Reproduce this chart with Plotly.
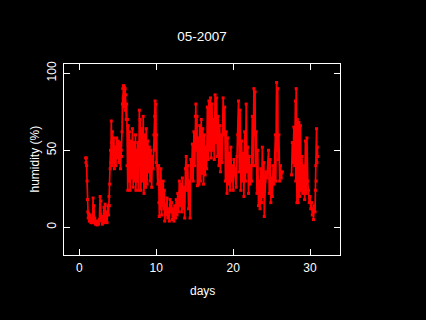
import plotly.graph_objects as go

# Readings (day of month, relative humidity %)
days = [0.82, 0.86, 0.9, 0.95, 1.0, 1.05, 1.1, 1.15,
        1.2, 1.3, 1.4, 1.5, 1.6, 1.7, 1.78, 1.82, 1.9, 1.95, 2.0, 2.1, 2.2, 2.3, 2.4, 2.5, 2.6, 2.7, 2.75, 2.8, 2.85, 2.95,
        3.0, 3.1, 3.2, 3.25, 3.35, 3.4, 3.5, 3.6, 3.7, 3.8, 3.85, 3.9, 3.95, 4.0, 4.05, 4.1, 4.15, 4.2, 4.25, 4.3, 4.4, 4.5,
        4.55, 4.65, 4.75, 4.85, 4.95, 5.05, 5.15, 5.25, 5.35, 5.45, 5.5, 5.55, 5.6, 5.65, 5.7, 5.75, 5.8, 5.85, 5.9, 5.95,
        6.0, 6.05, 6.1, 6.15, 6.2, 6.25, 6.3, 6.35, 6.4, 6.5, 6.6, 6.7, 6.8, 6.9, 7.0, 7.1, 7.2, 7.3, 7.35, 7.45, 7.5, 7.6,
        7.7, 7.8, 7.85, 7.9, 8.0, 8.1, 8.2, 8.3, 8.4, 8.5, 8.6, 8.7, 8.8, 8.9, 9.0, 9.1, 9.2, 9.3, 9.4, 9.5, 9.6, 9.7, 9.8,
        9.85, 9.9, 9.95, 10.0, 10.05, 10.1, 10.2, 10.3, 10.35, 10.4, 10.5, 10.55, 10.6, 10.65, 10.7, 10.8, 10.85, 10.9,
        11.0, 11.05, 11.1, 11.2, 11.3, 11.4, 11.5, 11.6, 11.7, 11.8, 11.9, 12.0, 12.1, 12.2, 12.3, 12.4, 12.5, 12.6, 12.7,
        12.8, 12.9, 13.0, 13.1, 13.2, 13.3, 13.4, 13.5, 13.6, 13.7, 13.8, 13.9, 14.0, 14.1, 14.2, 14.3, 14.4, 14.5, 14.6,
        14.7, 14.8, 14.9, 15.0, 15.1, 15.15, 15.2, 15.3, 15.35, 15.45, 15.55, 15.65, 15.75, 15.85, 15.95, 16.05, 16.15,
        16.25, 16.35, 16.45, 16.55, 16.65, 16.75, 16.85, 16.95, 17.05, 17.15, 17.25, 17.35, 17.45, 17.55, 17.65, 17.75,
        17.85, 17.95, 18.05, 18.15, 18.25, 18.35, 18.45, 18.55, 18.7, 18.8, 18.9, 19.0, 19.1, 19.2, 19.3, 19.4, 19.5,
        19.6, 19.7, 19.8, 19.9, 20.0, 20.1, 20.2, 20.4, 20.5, 20.6, 20.7, 20.8, 20.9, 21.0, 21.1, 21.2, 21.3, 21.4, 21.5,
        21.6, 21.7, 21.8, 21.9, 22.0, 22.1, 22.2, 22.3, 22.4, 22.5, 22.6, 22.7, 22.75, 22.85, 22.9, 23.0, 23.1, 23.2,
        23.3, 23.4, 23.5, 23.6, 23.7, 23.8, 23.9, 24.0, 24.05, 24.15, 24.25, 24.4, 24.6, 24.7, 24.8, 24.9, 25.0, 25.1,
        25.2, 25.3, 25.5, 25.55, 25.65, 25.7, 25.8, 25.85, 25.95, 26.05, 26.15, 26.25, 26.4,
        27.0,
        27.6, 27.7, 27.8, 27.9, 28.0, 28.1, 28.15, 28.2, 28.3, 28.35, 28.45, 28.55, 28.65, 28.75, 28.85, 28.95, 29.05,
        29.15, 29.3, 29.4, 29.5, 29.6, 29.7, 29.8, 29.9, 30.0, 30.1, 30.2, 30.3, 30.4, 30.45, 30.55, 30.65, 30.7, 30.75,
        30.8, 30.85, 30.9, 30.95, 31.0]

humidity = [45, 42, 45, 40, 30, 18, 10, 6,
            9, 4, 8, 3, 6, 3, 19, 5, 14, 3, 6, 2, 4, 1.5, 4, 2, 5, 20, 8, 17, 4, 7,
            2, 6, 13, 3, 15, 4, 10, 3, 14, 8, 20, 14, 28, 38, 50, 42, 69, 55, 40, 62, 42, 58,
            38, 52, 40, 58, 45, 56, 42, 55, 38, 50, 46, 62, 80, 90, 84, 92, 78, 91, 82, 90,
            76, 86, 70, 80, 40, 70, 24, 66, 30, 62, 24, 56, 32, 64, 26, 55, 30, 60, 24, 50, 30, 55,
            24, 76, 40, 70, 24, 64, 30, 72, 22, 60, 26, 64, 28, 56, 36, 52, 30, 50, 26, 46, 38, 60, 72,
            82, 50, 80, 42, 60, 40, 28, 40, 16, 7, 30, 12, 38, 20, 8, 28, 14, 30,
            12, 24, 4, 15, 8, 19, 6, 12, 4, 18, 10, 16, 5, 12, 4, 14, 6, 18, 8,
            22, 10, 30, 14, 28, 10, 32, 12, 26, 6, 38, 46, 24, 40, 12, 30, 6, 44, 32,
            54, 30, 62, 40, 72, 80, 50, 72, 27, 58, 28, 66, 30, 70, 35, 64, 28,
            60, 34, 52, 38, 78, 44, 82, 50, 84, 45, 80, 50, 70, 44, 86, 55,
            84, 46, 72, 40, 66, 36, 60, 42, 84, 60, 78, 30, 62, 22, 58, 28, 48,
            24, 52, 30, 40, 24, 44, 38, 26, 46, 60, 82, 36, 76, 24, 56, 30, 48, 20, 62,
            30, 80, 36, 52, 22, 46, 28, 40, 30, 72, 40, 90, 60, 88, 40, 62, 22, 50,
            14, 30, 12, 38, 16, 52, 20, 42, 7, 30, 36, 32, 50, 22, 44, 16, 32, 20,
            40, 28, 60, 30, 94, 50, 90, 44, 60, 30, 40, 32, 36,
            None,
            34, 55, 42, 65, 40, 82, 30, 90, 16, 70, 16, 68, 20, 66, 24, 46, 22,
            40, 18, 56, 22, 58, 30, 24, 16, 20, 12, 16, 8, 12, 5, 14, 10, 24, 40,
            30, 64, 42, 52, 46]

title_text = "05-2007"
x_title = "days"
y_title = "humidity (%)"
x_ticks = [0, 10, 20, 30]
y_ticks = [0, 50, 100]

font = dict(family="Liberation Sans, Arial, sans-serif", size=12, color="white")

fig = go.Figure(go.Scatter(
    x=days, y=humidity, mode="lines+markers",
    line=dict(color="#FF0000", width=1.7),
    marker=dict(color="#FF0000", size=3, symbol="square", line=dict(width=0)),
    connectgaps=False, showlegend=False, hoverinfo="skip"))

axis_common = dict(showgrid=False, zeroline=False, showline=True, linecolor="white",
                   linewidth=1, mirror="ticks", ticks="inside", ticklen=6,
                   tickcolor="white", tickwidth=1, tickfont=font)

fig.update_layout(
    width=426, height=320,
    paper_bgcolor="black", plot_bgcolor="black",
    margin=dict(l=64, r=86, t=64, b=65),
    font=font,
    xaxis=dict(range=[-2.0, 33.9], tickvals=x_ticks, ticklabelstandoff=2, **axis_common),
    yaxis=dict(range=[-18, 106], tickvals=y_ticks, tickangle=-90, ticklabelstandoff=2, **axis_common),
    title=dict(text=title_text, x=0.5, xref="paper", y=1 - 36 / 320, yanchor="middle",
               xanchor="center", font=dict(size=13.5, color="white", family=font["family"])),
    annotations=[
        dict(text=x_title, xref="paper", yref="paper", x=0.5, y=-36 / 191,
             xanchor="center", yanchor="middle", showarrow=False, font=font),
        dict(text=y_title, xref="paper", yref="paper", x=-30 / 276, y=0.5,
             xanchor="center", yanchor="middle", textangle=-90, showarrow=False, font=font),
    ],
)

fig.write_html("out.html", config={"displayModeBar": False},
               post_script="document.body.style.margin='0';document.body.style.background='black';")
